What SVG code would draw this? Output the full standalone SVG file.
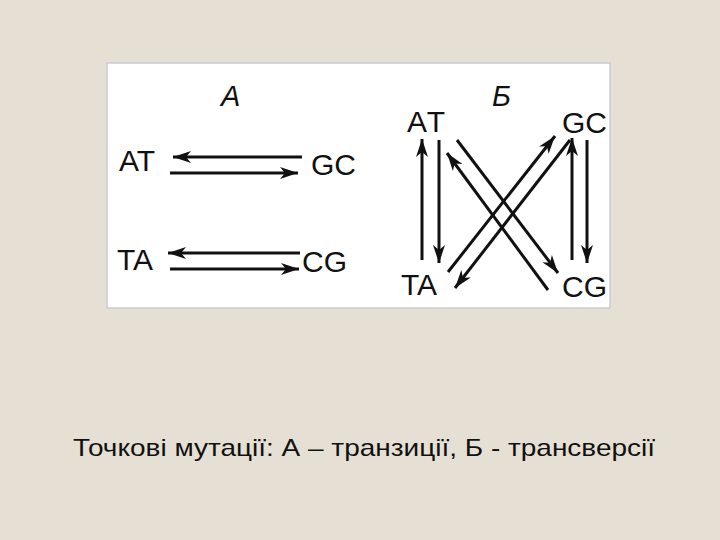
<svg xmlns="http://www.w3.org/2000/svg" width="720" height="540" viewBox="0 0 720 540">
<defs>
<marker id="ah" markerUnits="userSpaceOnUse" markerWidth="22" markerHeight="14" viewBox="-20 -7 22 14" refX="0" refY="0" orient="auto">
<path d="M0,0 L-18,-6 L-13,0 L-18,6 Z" fill="#111"/>
</marker>
</defs>
<style>
.lbl{font-family:"Liberation Sans",Arial,sans-serif;font-size:30px;fill:#111}
.ttl{font-family:"Liberation Sans",Arial,sans-serif;font-size:29px;font-style:italic;fill:#111}
.ar{stroke:#111;stroke-width:3;fill:none;marker-end:url(#ah)}
.cap{font-family:"Liberation Sans",Arial,sans-serif;font-size:24px;fill:#111}
</style>
<rect width="720" height="540" fill="#e6e0d4"/>
<rect x="107" y="63" width="503" height="245" fill="#ffffff" stroke="#c8ccd6" stroke-width="1.5"/>
<g id="title-A"><text class="ttl" x="221" y="106">A</text></g>
<g id="title-B"><text class="ttl" x="492" y="106">Б</text></g>
<g id="A-AT"><text class="lbl" x="119" y="171">AT</text></g>
<g id="A-GC"><text class="lbl" x="311" y="175">GC</text></g>
<g id="A-TA"><text class="lbl" x="117" y="270">TA</text></g>
<g id="A-CG"><text class="lbl" x="302" y="272">CG</text></g>
<g id="B-AT"><text class="lbl" x="407" y="132" letter-spacing="2">AT</text></g>
<g id="B-GC"><text class="lbl" x="562" y="133">GC</text></g>
<g id="B-TA"><text class="lbl" x="401" y="295">TA</text></g>
<g id="B-CG"><text class="lbl" x="562" y="297">CG</text></g>
<g id="connectors">
<line class="ar" x1="302" y1="157" x2="173" y2="157"/>
<line class="ar" x1="170" y1="173" x2="298" y2="173"/>
<line class="ar" x1="300" y1="253" x2="168" y2="253"/>
<line class="ar" x1="170" y1="269" x2="299" y2="269"/>
<line class="ar" x1="422" y1="260" x2="422" y2="139"/>
<line class="ar" x1="439" y1="140" x2="439" y2="263"/>
<line class="ar" x1="572" y1="260" x2="572" y2="138"/>
<line class="ar" x1="587" y1="140" x2="587" y2="263"/>
<line class="ar" x1="448" y1="272" x2="555" y2="136"/>
<line class="ar" x1="570" y1="140" x2="455" y2="288"/>
<line class="ar" x1="457" y1="140" x2="558" y2="273"/>
<line class="ar" x1="548" y1="290" x2="447" y2="153"/>
</g>
<g id="caption"><text class="cap" x="73" y="456" textLength="582" lengthAdjust="spacingAndGlyphs">Точкові мутації: А – транзиції, Б - трансверсії</text></g>
</svg>
